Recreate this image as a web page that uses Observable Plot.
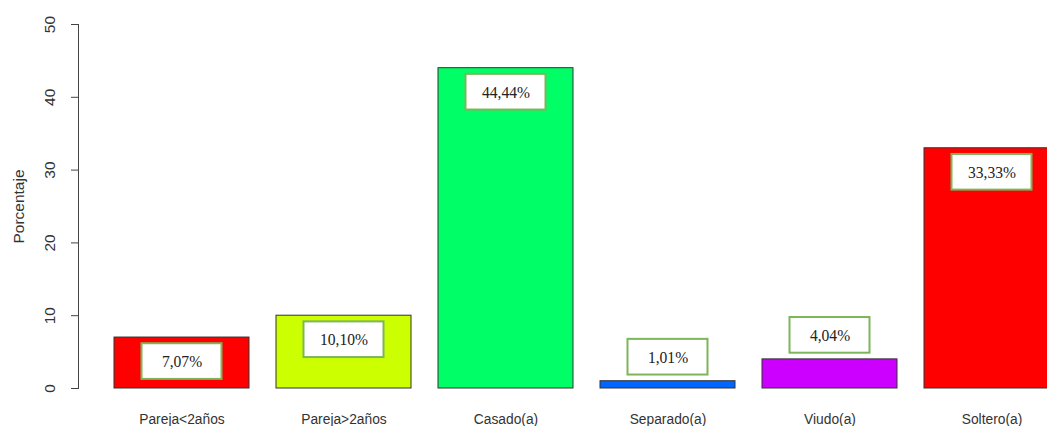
<!DOCTYPE html>
<html>
<head>
<meta charset="utf-8">
<script src="https://cdn.jsdelivr.net/npm/d3@7"></script>
<script src="https://cdn.jsdelivr.net/npm/@observablehq/plot@0.6"></script>
<style>
  html, body { margin: 0; padding: 0; background: white; overflow: hidden; }
</style>
</head>
<body>
<div id="chart"></div>
<script>
const categories = ["Pareja<2años", "Pareja>2años", "Casado(a)", "Separado(a)", "Viudo(a)", "Soltero(a)"];
const values = [7, 10, 44, 1, 4, 33];
const labels = ["7,07%", "10,10%", "44,44%", "1,01%", "4,04%", "33,33%"];
const barColors = ["#FF0000", "#CCFF00", "#00FF66", "#0066FF", "#CC00FF", "#FF0000"];
const yTicks = [0, 10, 20, 30, 40, 50];
const yTitle = "Porcentaje";

const data = categories.map((c, i) => ({cat: c, value: values[i], label: labels[i], color: barColors[i]}));
const center = d => d.value < 5 ? d.value + 3.3 : d.value - 3.3;

const chart = Plot.plot({
  width: 1047,
  height: 426,
  marginLeft: 78,
  marginRight: 0,
  marginTop: 24,
  marginBottom: 38,
  style: {fontFamily: "'Liberation Sans', Arial, sans-serif", fontSize: "15px", color: "#333", background: "white"},
  x: {domain: categories, range: [87, 1086], padding: 0.2 / 1.2, label: null},
  y: {domain: [0, 50], label: null},
  marks: [
    Plot.barY(data, {x: "cat", y: "value", fill: "color", stroke: "#333", strokeWidth: 1}),
    Plot.barY(data, {x: "cat", y1: d => center(d) - 2.45, y2: d => center(d) + 2.45, insetLeft: 27.5, insetRight: 27.5, fill: "white", stroke: "#7cb55a", strokeWidth: 2}),
    Plot.text(data, {x: "cat", y: center, text: "label", fontFamily: "'Liberation Serif', 'Times New Roman', serif", fontSize: 17.5, fill: "#222"}),
    Plot.axisX({tickSize: 0, tickPadding: 24, fontSize: 15.5, label: null}),
    Plot.axisY({ticks: yTicks, tickSize: 7, tickFormat: () => "", label: null, stroke: "#444"}),
    Plot.text(yTicks, {y: d => d, frameAnchor: "left", textAnchor: "middle", lineAnchor: "middle", dx: -28, rotate: -90, text: d => String(d), fontSize: 15.5}),
    Plot.text([yTitle], {frameAnchor: "left", textAnchor: "middle", lineAnchor: "middle", dx: -59.5, rotate: -90, text: d => d, fontSize: 15.5}),
    Plot.frame({anchor: "left", stroke: "#444"})
  ]
});

document.getElementById("chart").append(chart);

// horizontal text in the reference looks slightly condensed
const squeeze = 0.89;
chart.querySelectorAll('g[aria-label="x-axis tick label"] text').forEach(t => {
  const w = t.getComputedTextLength();
  t.setAttribute("textLength", w * squeeze);
  t.setAttribute("lengthAdjust", "spacingAndGlyphs");
});
chart.querySelectorAll('g[aria-label="text"]').forEach(g => {
  if (!g.textContent.includes("%")) return;
  g.querySelectorAll("text").forEach(t => {
    const w = t.getComputedTextLength();
    t.setAttribute("textLength", w * squeeze);
    t.setAttribute("lengthAdjust", "spacingAndGlyphs");
  });
});
</script>
</body>
</html>
